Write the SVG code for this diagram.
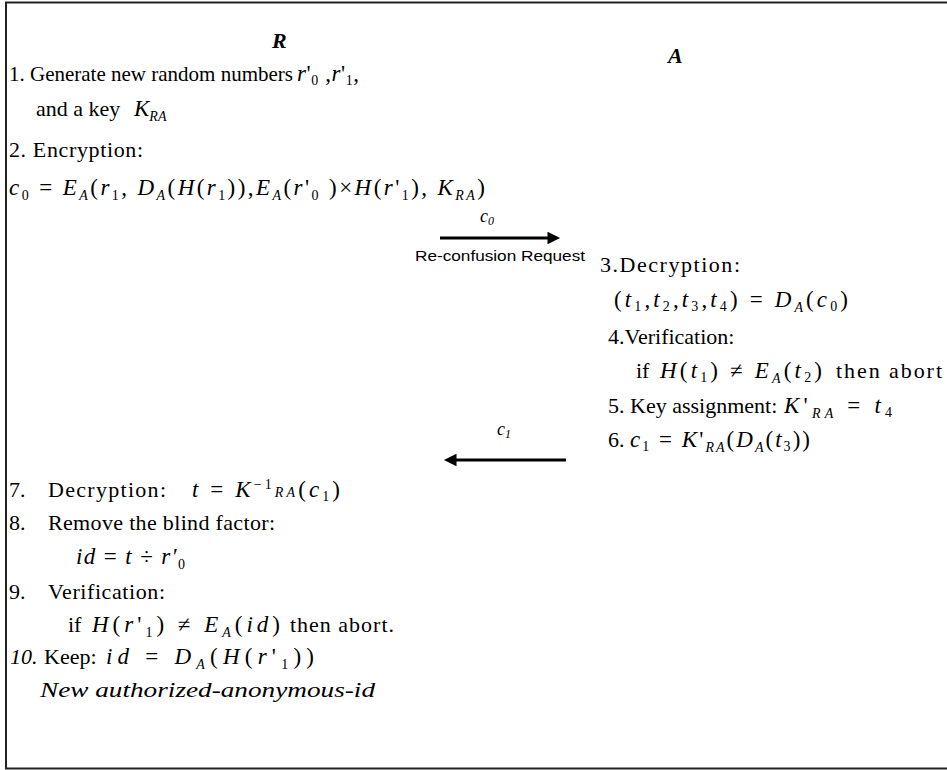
<svg xmlns="http://www.w3.org/2000/svg" width="947" height="770" viewBox="0 0 947 770">
<style>
text{font-family:"Liberation Serif","Times New Roman",serif;font-size:22px;fill:#000}
.i{font-style:italic}
.m{font-size:23px}
.hd{font-weight:bold;font-style:italic;font-size:22px}
.sb{font-size:14px}
.sa{font-family:"Liberation Sans",Arial,sans-serif;font-size:15px}
.lb{font-size:18px}
.lbs{font-size:12px}
.conn line{stroke:#000;stroke-width:3}
</style>
<defs>
<marker id="ah" viewBox="0 0 10 10" refX="2" refY="5" markerWidth="5" markerHeight="4.2" orient="auto" markerUnits="strokeWidth"><path d="M0,0L10,5L0,10z" fill="#000"/></marker>
</defs>
<rect x="6" y="2.5" width="950" height="766" fill="#fff" stroke="#222" stroke-width="2"/>
<g id="party-R"><text class="hd" x="272" y="48">R</text></g>
<g id="party-A"><text class="hd" x="668" y="63">A</text></g>
<g id="step1">
<text x="9" y="81" style="font-size:21px">1. Generate new random numbers</text>
<text class="m" x="297" y="81" textLength="62" lengthAdjust="spacing"><tspan class="i">r</tspan>'<tspan class="sb" dy="4">0</tspan><tspan dy="-4"> ,</tspan><tspan class="i">r</tspan>'<tspan class="sb" dy="4">1</tspan><tspan dy="-4">,</tspan></text>
<text x="36" y="116">and a key</text>
<text class="m i" x="134" y="116">K<tspan class="sb" dy="5">RA</tspan></text>
</g>
<g id="step2">
<text x="9" y="157" textLength="134" lengthAdjust="spacing">2. Encryption:</text>
<text class="m" x="9" y="195" textLength="476" lengthAdjust="spacing"><tspan class="i">c</tspan><tspan class="sb" dy="5">0</tspan><tspan dy="-5"> = </tspan><tspan class="i">E</tspan><tspan class="i sb" dy="5">A</tspan><tspan dy="-5">(</tspan><tspan class="i">r</tspan><tspan class="sb" dy="5">1</tspan><tspan dy="-5">, </tspan><tspan class="i">D</tspan><tspan class="i sb" dy="5">A</tspan><tspan dy="-5">(</tspan><tspan class="i">H</tspan>(<tspan class="i">r</tspan><tspan class="sb" dy="5">1</tspan><tspan dy="-5">)),</tspan><tspan class="i">E</tspan><tspan class="i sb" dy="5">A</tspan><tspan dy="-5">(</tspan><tspan class="i">r</tspan>'<tspan class="sb" dy="5">0</tspan><tspan dy="-5"> )×</tspan><tspan class="i">H</tspan>(<tspan class="i">r</tspan>'<tspan class="sb" dy="5">1</tspan><tspan dy="-5">), </tspan><tspan class="i">K</tspan><tspan class="i sb" dy="5">RA</tspan><tspan dy="-5">)</tspan></text>
</g>
<g id="step3">
<text x="600" y="272" textLength="140" lengthAdjust="spacing">3.Decryption:</text>
<text class="m" x="614" y="307" textLength="234" lengthAdjust="spacing">(<tspan class="i">t</tspan><tspan class="sb" dy="4">1</tspan><tspan dy="-4">,</tspan><tspan class="i">t</tspan><tspan class="sb" dy="4">2</tspan><tspan dy="-4">,</tspan><tspan class="i">t</tspan><tspan class="sb" dy="4">3</tspan><tspan dy="-4">,</tspan><tspan class="i">t</tspan><tspan class="sb" dy="4">4</tspan><tspan dy="-4">) = </tspan><tspan class="i">D</tspan><tspan class="i sb" dy="5">A</tspan><tspan dy="-5">(</tspan><tspan class="i">c</tspan><tspan class="sb" dy="4">0</tspan><tspan dy="-4">)</tspan></text>
</g>
<g id="step4">
<text x="608" y="344">4.Verification:</text>
<text x="636" y="378">if</text>
<text class="m" x="660" y="378" textLength="162" lengthAdjust="spacing"><tspan class="i">H</tspan>(<tspan class="i">t</tspan><tspan class="sb" dy="4">1</tspan><tspan dy="-4">) ≠ </tspan><tspan class="i">E</tspan><tspan class="i sb" dy="5">A</tspan><tspan dy="-5">(</tspan><tspan class="i">t</tspan><tspan class="sb" dy="4">2</tspan><tspan dy="-4">)</tspan></text>
<text x="836" y="378" textLength="106" lengthAdjust="spacing">then abort</text>
</g>
<g id="step5">
<text x="608" y="413">5. Key assignment:</text>
<text class="m" x="784" y="413" textLength="108" lengthAdjust="spacing"><tspan class="i">K</tspan>'<tspan class="i sb" dy="5">RA</tspan><tspan dy="-5"> = </tspan><tspan class="i">t</tspan><tspan class="sb" dy="4">4</tspan></text>
</g>
<g id="step6">
<text x="608" y="447">6.</text>
<text class="m" x="630" y="447" textLength="180" lengthAdjust="spacing"><tspan class="i">c</tspan><tspan class="sb" dy="4">1</tspan><tspan dy="-4"> = </tspan><tspan class="i">K</tspan>'<tspan class="i sb" dy="5">RA</tspan><tspan dy="-5">(</tspan><tspan class="i">D</tspan><tspan class="i sb" dy="5">A</tspan><tspan dy="-5">(</tspan><tspan class="i">t</tspan><tspan class="sb" dy="4">3</tspan><tspan dy="-4">))</tspan></text>
</g>
<g id="step7">
<text x="9" y="497">7.</text>
<text x="48" y="497" textLength="118" lengthAdjust="spacing">Decryption:</text>
<text class="m" x="192" y="497" textLength="148" lengthAdjust="spacing"><tspan class="i">t</tspan> = <tspan class="i">K</tspan><tspan class="sb" dy="-8">−1</tspan><tspan class="i sb" dy="8">RA</tspan>(<tspan class="i">c</tspan><tspan class="sb" dy="4">1</tspan><tspan dy="-4">)</tspan></text>
</g>
<g id="step8">
<text x="9" y="530">8.</text>
<text x="48" y="530" textLength="227" lengthAdjust="spacing">Remove the blind factor:</text>
<text class="m" x="76" y="564" textLength="109" lengthAdjust="spacing"><tspan class="i">id</tspan> = <tspan class="i">t</tspan> ÷ <tspan class="i">r′</tspan><tspan class="sb" dy="5">0</tspan></text>
</g>
<g id="step9">
<text x="9" y="599">9.</text>
<text x="48" y="599" textLength="117" lengthAdjust="spacing">Verification:</text>
<text x="68" y="632">if</text>
<text class="m" x="92" y="632" textLength="188" lengthAdjust="spacing"><tspan class="i">H</tspan>(<tspan class="i">r</tspan>'<tspan class="sb" dy="5">1</tspan><tspan dy="-5">) ≠ </tspan><tspan class="i">E</tspan><tspan class="i sb" dy="5">A</tspan><tspan dy="-5">(</tspan><tspan class="i">id</tspan>)</text>
<text x="290" y="632" textLength="104" lengthAdjust="spacing">then abort.</text>
</g>
<g id="step10">
<text class="i" x="10" y="664">10.</text>
<text x="44" y="664">Keep:</text>
<text class="m" x="106" y="664" textLength="208" lengthAdjust="spacing"><tspan class="i">id</tspan> = <tspan class="i">D</tspan><tspan class="i sb" dy="5">A</tspan><tspan dy="-5">(</tspan><tspan class="i">H</tspan>(<tspan class="i">r</tspan>'<tspan class="sb" dy="5">1</tspan><tspan dy="-5">))</tspan></text>
<text class="i" x="40" y="697" textLength="335" lengthAdjust="spacingAndGlyphs">New authorized-anonymous-id</text>
</g>
<g id="connectors" class="conn">
<line x1="440" y1="238" x2="550" y2="238" marker-end="url(#ah)"/>
<text class="lb i" x="480" y="222">c<tspan class="lbs" dy="3">0</tspan></text>
<text class="sa" x="415" y="261" textLength="170" lengthAdjust="spacingAndGlyphs">Re-confusion Request</text>
<line x1="566" y1="460" x2="454" y2="460" marker-end="url(#ah)"/>
<text class="lb i" x="497" y="435">c<tspan class="lbs" dy="3">1</tspan></text>
</g>
</svg>
